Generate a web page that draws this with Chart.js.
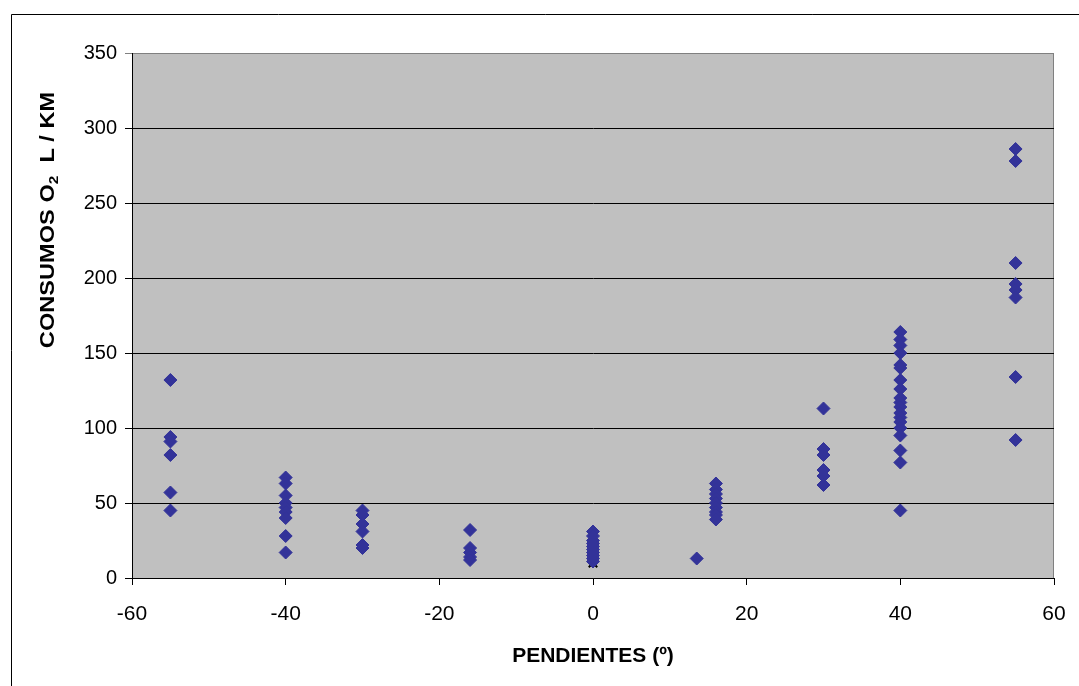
<!DOCTYPE html>
<html>
<head>
<meta charset="utf-8">
<script src="https://cdn.jsdelivr.net/npm/chart.js@4.4.0/dist/chart.umd.min.js"></script>
<style>
  html, body { margin: 0; padding: 0; background: #ffffff; }
  #wrap { width: 1079px; height: 686px; position: relative; }
</style>
</head>
<body>
<div id="wrap"><canvas id="consumo-chart" width="1079" height="686"></canvas></div>
<script>
// pendientes (x) and consumos (y), one pair per measurement
const slopes = [
    -55, -55, -55, -55, -55, -55,
    -40, -40, -40, -40, -40, -40, -40, -40, -40,
    -30, -30, -30, -30, -30, -30,
    -16, -16, -16, -16, -16,
    0, 0, 0, 0, 0, 0, 0, 0, 0, 0,
    13.5,
    16, 16, 16, 16, 16, 16, 16, 16, 16,
    30, 30, 30, 30, 30, 30,
    40, 40, 40, 40, 40, 40, 40, 40, 40, 40, 40, 40, 40, 40, 40, 40, 40, 40, 40,
    55, 55, 55, 55, 55, 55, 55, 55
];
const consumos = [
    132, 94, 91, 82, 57, 45,
    67, 63, 55, 50, 47, 44, 40, 28, 17,
    45, 42, 36, 31, 22, 20,
    32, 20, 17, 14, 12,
    31, 28, 25, 23, 21, 19, 17, 15, 13, 11,
    13,
    63, 59, 56, 53, 50, 47, 44, 42, 39,
    113, 86, 82, 72, 68, 62,
    164, 159, 155, 150, 142, 140, 132, 126, 120, 117, 114, 110, 107, 104, 100, 95, 85, 77, 45,
    286, 278, 210, 196, 192, 187, 134, 92
];
// single black cross near the origin (mostly hidden behind a diamond)
const crossX = [0];
const crossY = [10];

const yTicks = [0, 50, 100, 150, 200, 250, 300, 350];
const xTicks = [-60, -40, -20, 0, 20, 40, 60];

const fontFamily = '"Liberation Sans", Arial, sans-serif';

// frame + grey plot background + rotated y title with subscript
const chartDecor = {
    id: 'chartDecor',
    beforeDraw(chart) {
        const ctx = chart.ctx;
        const a = chart.chartArea;
        ctx.save();
        ctx.fillStyle = '#ffffff';
        ctx.fillRect(0, 0, chart.width, chart.height);
        ctx.strokeStyle = '#000000';
        ctx.lineWidth = 1;
        ctx.beginPath();
        ctx.moveTo(11.5, chart.height);
        ctx.lineTo(11.5, 14.5);
        ctx.lineTo(chart.width, 14.5);
        ctx.stroke();
        ctx.fillStyle = '#c0c0c0';
        ctx.fillRect(a.left, a.top, a.right - a.left, a.bottom - a.top);
        ctx.strokeStyle = '#808080';
        ctx.strokeRect(a.left + 0.5, a.top + 0.5, a.right - a.left - 1, a.bottom - a.top);
        ctx.restore();
    },
    afterDraw(chart) {
        const ctx = chart.ctx;
        ctx.save();
        ctx.translate(48, 220);
        ctx.rotate(-Math.PI / 2);
        ctx.scale(1.18, 1);   // excel text is drawn wider
        ctx.fillStyle = '#000000';
        ctx.textBaseline = 'middle';
        const big = 'bold 20px ' + fontFamily;
        const small = 'bold 13px ' + fontFamily;
        const parts = [['CONSUMOS O', big, 0], ['2', small, 6], ['  L / KM', big, 0]];
        let total = 0;
        parts.forEach(p => { ctx.font = p[1]; total += ctx.measureText(p[0]).width; });
        let x = -total / 2;
        parts.forEach(p => {
            ctx.font = p[1];
            ctx.fillText(p[0], x, p[2]);
            x += ctx.measureText(p[0]).width;
        });
        ctx.restore();
    }
};

new Chart(document.getElementById('consumo-chart'), {
    type: 'scatter',
    data: {
        datasets: [
            {
                label: 'Consumos',
                data: slopes.map((s, i) => ({ x: s, y: consumos[i] })),
                order: 0,
                pointStyle: 'rectRot',
                pointRadius: 6.5,
                pointHoverRadius: 6.5,
                backgroundColor: '#333399',
                borderColor: '#333399',
                borderWidth: 1
            },
            {
                label: 'Cruz',
                data: crossX.map((s, i) => ({ x: s, y: crossY[i] })),
                order: 1,
                pointStyle: 'crossRot',
                pointRadius: 6,
                borderColor: '#000000',
                borderWidth: 2
            }
        ]
    },
    options: {
        responsive: false,
        animation: false,
        devicePixelRatio: 1,
        layout: { padding: { left: 12, top: 53, right: 25, bottom: 0 } },
        scales: {
            x: {
                type: 'linear',
                min: -60,
                max: 60,
                afterBuildTicks: axis => { axis.ticks = xTicks.map(v => ({ value: v })); },
                afterFit: axis => {
                    axis.height = 108;
                    axis.paddingLeft = 0;
                    axis.paddingRight = 0;
                },
                border: { display: true, color: '#000000', width: 1 },
                grid: { drawOnChartArea: false, drawTicks: true, tickLength: 7, color: '#000000' },
                ticks: { color: '#000000', padding: 17, maxRotation: 0, font: { family: fontFamily, size: 21 } },
                title: {
                    display: true,
                    text: 'PENDIENTES (º)',
                    color: '#000000',
                    padding: { top: 0, bottom: 17 },
                    font: { family: fontFamily, size: 21, weight: 'bold' }
                }
            },
            y: {
                type: 'linear',
                min: 0,
                max: 350,
                afterBuildTicks: axis => { axis.ticks = yTicks.map(v => ({ value: v })); },
                afterFit: axis => {
                    axis.width = 120;
                    axis.paddingTop = 0;
                    axis.paddingBottom = 0;
                },
                border: { display: true, color: '#000000', width: 1 },
                grid: {
                    drawTicks: true,
                    tickLength: 7,
                    color: ctx => (ctx.tick && ctx.tick.value === 350 ? '#808080' : '#000000')
                },
                ticks: { color: '#000000', padding: 8, font: { family: fontFamily, size: 20 } }
            }
        },
        plugins: {
            legend: { display: false },
            tooltip: { enabled: false }
        }
    },
    plugins: [chartDecor]
});
</script>
</body>
</html>
